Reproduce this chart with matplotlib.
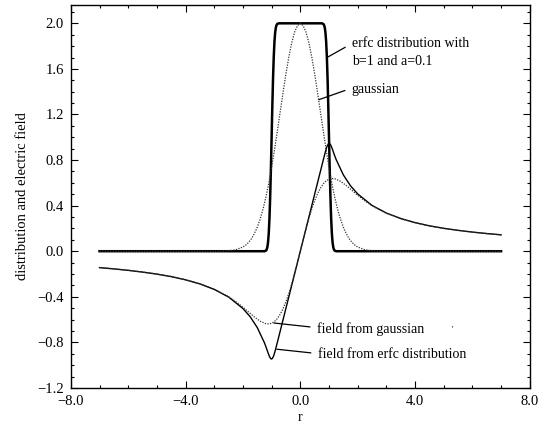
import matplotlib
matplotlib.use("Agg")
import matplotlib.pyplot as plt
from matplotlib.ticker import MultipleLocator, FuncFormatter

plt.rcParams['font.family'] = ['Liberation Serif', 'DejaVu Serif']

# erfc distribution (b=1, a=0.1)
r_erfc = [-7.0, -1.25, -1.2, -1.175, -1.15, -1.125, -1.1, -1.075, -1.05, -1.025,
          -1.0, -0.975, -0.95, -0.925, -0.9, -0.875, -0.85, -0.825, -0.8, -0.75,
          0.75, 0.8, 0.825, 0.85, 0.875, 0.9, 0.925, 0.95, 0.975, 1.0,
          1.025, 1.05, 1.075, 1.1, 1.125, 1.15, 1.175, 1.2, 1.25, 7.0]
erfc_dist = [0.0, 0.0, 0.005, 0.013, 0.034, 0.077, 0.157, 0.289, 0.479, 0.724,
             1.0, 1.276, 1.521, 1.711, 1.843, 1.923, 1.966, 1.987, 1.995, 2.0,
             2.0, 1.995, 1.987, 1.966, 1.923, 1.843, 1.711, 1.521, 1.276, 1.0,
             0.724, 0.479, 0.289, 0.157, 0.077, 0.034, 0.013, 0.005, 0.0, 0.0]

# gaussian distribution
r_gauss = [-7.0, -3.5, -3.0, -2.75, -2.5, -2.25, -2.0, -1.9, -1.8, -1.7, -1.6, -1.5,
           -1.4, -1.3, -1.2, -1.1, -1.0, -0.9, -0.8, -0.7, -0.6, -0.5, -0.4, -0.3,
           -0.2, -0.1, 0.0, 0.1, 0.2, 0.3, 0.4, 0.5, 0.6, 0.7, 0.8, 0.9, 1.0,
           1.1, 1.2, 1.3, 1.4, 1.5, 1.6, 1.7, 1.8, 1.9, 2.0, 2.25, 2.5, 2.75,
           3.0, 3.5, 7.0]
gauss_dist = [0.0, 0.0, 0.0, 0.001, 0.004, 0.013, 0.037, 0.054, 0.078, 0.111, 0.155, 0.211,
              0.282, 0.369, 0.474, 0.596, 0.736, 0.890, 1.055, 1.225, 1.395, 1.558, 1.704, 1.828,
              1.922, 1.980, 2.0, 1.980, 1.922, 1.828, 1.704, 1.558, 1.395, 1.225, 1.055, 0.890, 0.736,
              0.596, 0.474, 0.369, 0.282, 0.211, 0.155, 0.111, 0.078, 0.054, 0.037, 0.013, 0.004, 0.001,
              0.0, 0.0, 0.0]

# field from erfc distribution
r_field_erfc = [-7.0, -6.5, -6.0, -5.5, -5.0, -4.5, -4.0, -3.5, -3.0, -2.5, -2.0, -1.75,
                -1.5, -1.25, -1.2, -1.15, -1.125, -1.1, -1.075, -1.05, -1.025, -1.0,
                -0.975, -0.95, -0.925, -0.9, -0.875, -0.85, -0.8, -0.75, 0.0,
                0.75, 0.8, 0.85, 0.875, 0.9, 0.925, 0.95, 0.975, 1.0, 1.025, 1.05,
                1.075, 1.1, 1.125, 1.15, 1.2, 1.25, 1.5, 1.75, 2.0, 2.5, 3.0, 3.5,
                4.0, 4.5, 5.0, 5.5, 6.0, 6.5, 7.0]
field_erfc = [-0.144, -0.155, -0.168, -0.183, -0.201, -0.223, -0.251, -0.287, -0.335, -0.402, -0.503, -0.574,
              -0.670, -0.804, -0.837, -0.873, -0.891, -0.908, -0.924, -0.936, -0.944, -0.946,
              -0.941, -0.930, -0.915, -0.895, -0.873, -0.849, -0.800, -0.750, 0.0,
              0.750, 0.800, 0.849, 0.873, 0.895, 0.915, 0.930, 0.941, 0.946, 0.944, 0.936,
              0.924, 0.908, 0.891, 0.873, 0.837, 0.804, 0.670, 0.574, 0.503, 0.402, 0.335, 0.287,
              0.251, 0.223, 0.201, 0.183, 0.168, 0.155, 0.144]

# field from gaussian
r_field_gauss = [-7.0, -6.0, -5.0, -4.5, -4.0, -3.5, -3.0, -2.5, -2.25, -2.0, -1.8, -1.6,
                 -1.4, -1.2, -1.1, -1.0, -0.9, -0.8, -0.7, -0.6, -0.5, -0.4, -0.3, -0.2,
                 -0.1, 0.0, 0.1, 0.2, 0.3, 0.4, 0.5, 0.6, 0.7, 0.8, 0.9, 1.0, 1.1, 1.2,
                 1.4, 1.6, 1.8, 2.0, 2.25, 2.5, 3.0, 3.5, 4.0, 4.5, 5.0, 6.0, 7.0]
field_gauss = [-0.143, -0.167, -0.200, -0.222, -0.250, -0.286, -0.333, -0.399, -0.442, -0.491, -0.534, -0.577,
               -0.614, -0.636, -0.638, -0.632, -0.617, -0.591, -0.553, -0.504, -0.442, -0.370, -0.287, -0.196,
               -0.100, 0.0, 0.100, 0.196, 0.287, 0.370, 0.442, 0.504, 0.553, 0.591, 0.617, 0.632, 0.638, 0.636,
               0.614, 0.577, 0.534, 0.491, 0.442, 0.399, 0.333, 0.286, 0.250, 0.222, 0.200, 0.167, 0.143]

fig = plt.figure(figsize=(5.49, 4.24), dpi=100)
ax = fig.add_axes([0.129, 0.085, 0.836, 0.903])

ax.plot(r_erfc, erfc_dist, color='black', lw=1.8)
ax.plot(r_gauss, gauss_dist, color='#333333', lw=0.9, ls=(0, (1, 1.1)))
ax.plot(r_field_erfc, field_erfc, color='black', lw=1.0)
ax.plot(r_field_gauss, field_gauss, color='#333333', lw=0.9, ls=(0, (1, 1.1)))

# tick labels with one decimal and a real minus sign
fmt = FuncFormatter(lambda v, pos: f'{v:.1f}'.replace('-', '\u2212'))

ax.set_xlim(-8, 8)
ax.set_ylim(-1.2, 2.16)
ax.xaxis.set_major_locator(MultipleLocator(4))
ax.xaxis.set_minor_locator(MultipleLocator(1))
ax.yaxis.set_major_locator(MultipleLocator(0.4))
ax.yaxis.set_minor_locator(MultipleLocator(0.1))
ax.xaxis.set_major_formatter(fmt)
ax.yaxis.set_major_formatter(fmt)
ax.tick_params(which='both', direction='in', top=True, right=True, labelsize=10.5, width=0.8)
ax.tick_params(which='major', length=5, pad=5)
ax.tick_params(which='minor', length=2.5)
for s in ax.spines.values():
    s.set_linewidth(1.0)

ax.set_xlabel('r', fontsize=10, labelpad=2)
ax.set_ylabel('distribution and electric field', fontsize=10.5, labelpad=6)

line = dict(arrowstyle='-', color='black', lw=0.9, shrinkA=3, shrinkB=0)
ax.annotate('erfc distribution with\nb=1 and a=0.1', xy=(0.93, 1.70), xytext=(1.79, 1.74),
            ha='left', va='center', fontsize=10, linespacing=1.5,
            arrowprops=dict(line, relpos=(0, 0.8)))
ax.annotate('gaussian', xy=(0.65, 1.33), xytext=(1.79, 1.42),
            ha='left', va='center', fontsize=10,
            arrowprops=dict(line, relpos=(0, 0.6)))
ax.annotate('field from gaussian', xy=(-0.92, -0.63), xytext=(0.58, -0.683),
            ha='left', va='center', fontsize=10,
            arrowprops=dict(line, relpos=(0, 0.6)))
ax.annotate('field from erfc distribution', xy=(-0.82, -0.86), xytext=(0.61, -0.91),
            ha='left', va='center', fontsize=10,
            arrowprops=dict(line, relpos=(0, 0.6)))
ax.text(5.3, -0.69, "'", fontsize=6, ha='center', va='center')

fig.savefig('out.png', dpi=100)
